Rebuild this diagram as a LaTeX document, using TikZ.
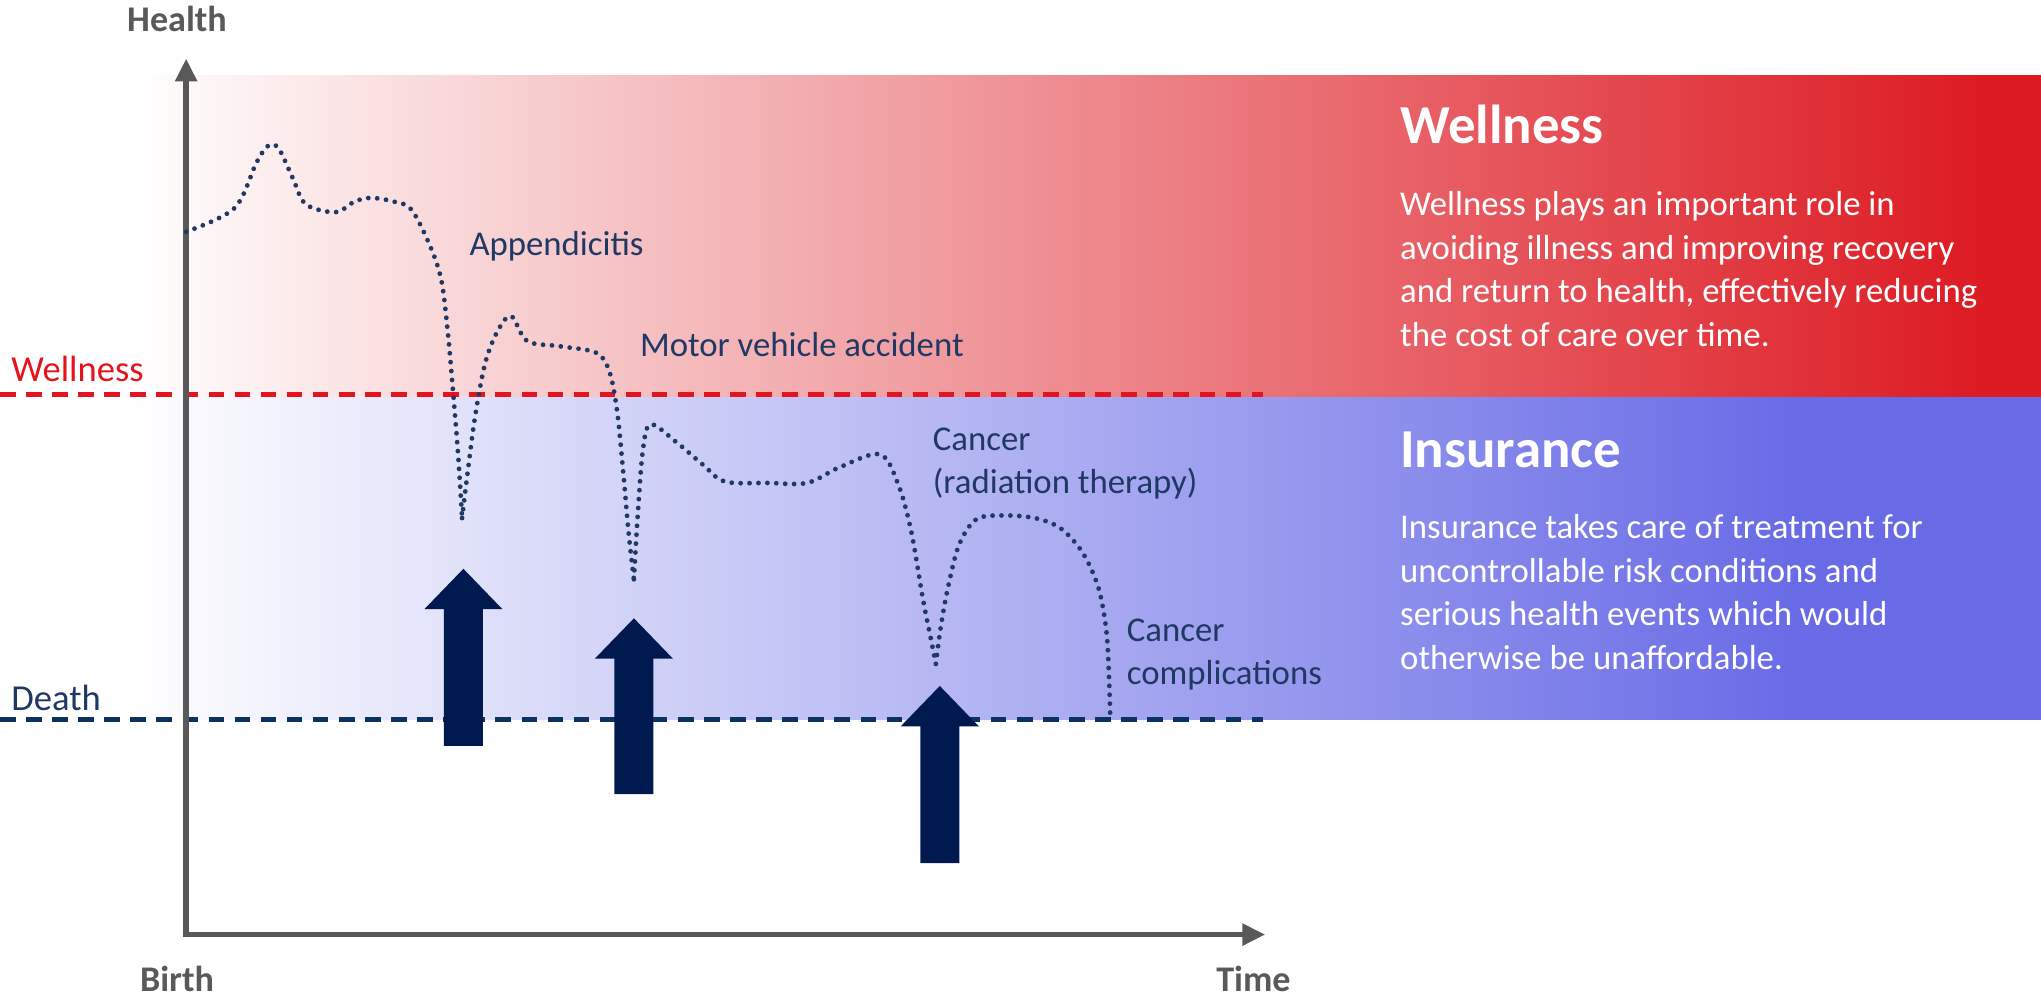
\documentclass[tikz,border=0pt]{standalone}
\usepackage{fontspec}
\setmainfont{Carlito}
\usetikzlibrary{arrows.meta,positioning}
\usepackage{xcolor}

\definecolor{wellred}{RGB}{221,27,35}
\definecolor{insblue}{RGB}{104,106,230}
\definecolor{navytext}{RGB}{31,56,100}
\definecolor{arrownavy}{RGB}{0,26,80}
\definecolor{axisgrey}{RGB}{89,89,89}
\definecolor{dashred}{RGB}{228,20,30}
\definecolor{dashnavy}{RGB}{14,50,96}

\tikzset{
  axisline/.style={axisgrey, line width=1.2pt, {Triangle[length=5pt,width=4.6pt]}-{Triangle[length=5pt,width=4.6pt]}},
  levelline/.style={line width=1.05pt, dash pattern=on 3.4pt off 2.3pt},
  healthpath/.style={navytext, line width=1.05pt, line cap=round, dash pattern=on 0pt off 1.95pt},
  axislabel/.style={axisgrey, inner sep=0pt, font=\fontsize{7.9}{9.5}\selectfont\bfseries},
  levellabel/.style={inner sep=0pt, anchor=base west, font=\fontsize{8}{9.5}\selectfont},
  eventlabel/.style={navytext, inner sep=0pt, anchor=base west, align=left, font=\fontsize{7.6}{9.4}\selectfont},
  titletext/.style={white, inner sep=0pt, anchor=base west, font=\fontsize{12}{14}\selectfont\bfseries},
  bodytext/.style={white, inner sep=0pt, anchor=base west, align=left, font=\fontsize{7.6}{9.5}\selectfont}
}

\begin{document}
\begin{tikzpicture}[x=0.1mm,y=-0.1mm]
    \useasboundingbox (0,0) rectangle (1568,767);

    % Shaded bands
    \shade[left color=white, right color=wellred] (100,58) rectangle (1520,305);
    \fill[wellred] (1519,58) rectangle (1568,305);
    \shade[left color=white, right color=insblue] (100,305) rectangle (1390,553);
    \fill[insblue] (1389,305) rectangle (1568,553);

    % Wellness and death levels
    \coordinate (wellleft) at (0,303);
    \coordinate (wellright) at (970,303);
    \coordinate (deathleft) at (0,553);
    \coordinate (deathright) at (970,553);
    \draw[levelline, dashred] (wellleft) -- (wellright);
    \draw[levelline, dashnavy] (deathleft) -- (deathright);
    \node[levellabel, dashred] (welllabel) at (8,293) {Wellness};
    \node[levellabel, navytext] (deathlabel) at (8,546) {Death};

    % Axes
    \coordinate (ytop) at (143,45);
    \coordinate (origin) at (143,718);
    \coordinate (xend) at (972,718);
    \draw[axisline] (ytop) -- (origin) -- (xend);
    \node[axislabel, anchor=base] (health) at (136,24) {Health};
    \node[axislabel, anchor=base] (birth) at (136,762) {Birth};
    \node[axislabel, anchor=base] (time) at (963,762) {Time};

    % Health over time
    \draw[healthpath] plot[smooth, tension=0.55] coordinates {(143,178) (180,160) (197,125) (206,112) (214,114) (225,137) (235,157) (258,163) (272,155) (285,152) (303,155) (316,161) (330,188) (339,215) (344,255) (348,300) (352,350) (355,398)};
    \draw[healthpath] plot[smooth, tension=0.55] coordinates {(355,398) (359,365) (365,320) (373,278) (383,253) (393,243) (405,262) (430,266) (458,271) (468,285) (474,315) (479,365) (483,410) (487,445)};
    \draw[healthpath] plot[smooth, tension=0.55] coordinates {(487,445) (490,395) (494,345) (500,326) (520,340) (540,357) (557,370) (590,371) (620,371) (645,359) (676,349) (690,372) (700,408) (709,460) (715,490) (719,510)};
    \draw[healthpath] plot[smooth, tension=0.55] coordinates {(719,510) (723,480) (729,448) (737,418) (750,399) (770,396) (795,398) (815,406) (832,425) (844,452) (850,485) (852,520) (853,553)};

    % Events (multi-line nodes sit on their last line)
    \node[eventlabel] (appendix) at (360,196) {Appendicitis};
    \node[eventlabel] (accident) at (491,274) {Motor vehicle accident};
    \node[eventlabel] (radiation) at (716,379) {Cancer\\(radiation therapy)};
    \node[eventlabel] (complication) at (865,526) {Cancer\\complications};

    % Insurance arrows
    \foreach \x/\t/\b in {356/437/573, 487/475/610, 722/527/663} {
        \pgfmathsetmacro{\hb}{\t+31}
        \fill[arrownavy] (\x,\t) -- (\x+30,\hb) -- (\x+15,\hb) -- (\x+15,\b) -- (\x-15,\b) -- (\x-15,\hb) -- (\x-30,\hb) -- cycle;
    }

    % Wellness and insurance texts
    \node[titletext] (welltitle) at (1075,110) {Wellness};
    \node[bodytext] (wellbody) at (1075,266) {Wellness plays an important role in\\avoiding illness and improving recovery\\and return to health, effectively reducing\\the cost of care over time.};
    \node[titletext] (institle) at (1075,359) {Insurance};
    \node[bodytext] (insbody) at (1075,514) {Insurance takes care of treatment for\\uncontrollable risk conditions and\\serious health events which would\\otherwise be unaffordable.};

\end{tikzpicture}
\end{document}
